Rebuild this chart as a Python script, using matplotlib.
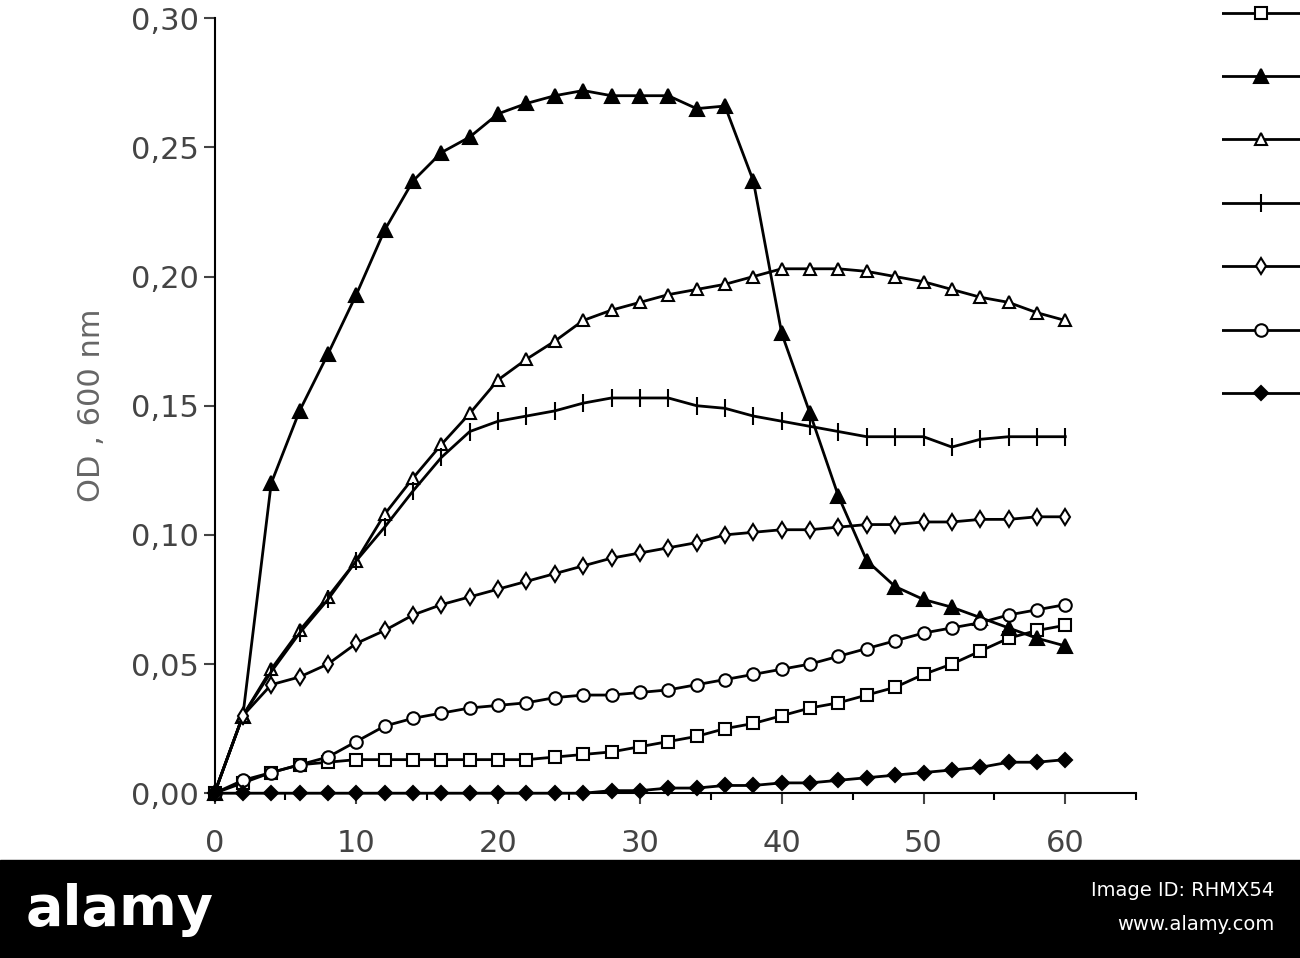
import numpy as np
import matplotlib.pyplot as plt
from matplotlib.patches import Rectangle

t = np.arange(0, 61, 2)

tri_filled = [0, 0.03, 0.12, 0.148, 0.17, 0.193, 0.218, 0.237, 0.248, 0.254, 0.263, 0.267, 0.27, 0.272, 0.27, 0.27,
              0.27, 0.265, 0.266, 0.237, 0.178, 0.147, 0.115, 0.09, 0.08, 0.075, 0.072, 0.068, 0.064, 0.06, 0.057]
tri_open = [0, 0.03, 0.048, 0.063, 0.076, 0.09, 0.108, 0.122, 0.135, 0.147, 0.16, 0.168, 0.175, 0.183, 0.187, 0.19,
            0.193, 0.195, 0.197, 0.2, 0.203, 0.203, 0.203, 0.202, 0.2, 0.198, 0.195, 0.192, 0.19, 0.186, 0.183]
plus = [0, 0.03, 0.047, 0.062, 0.075, 0.09, 0.103, 0.117, 0.13, 0.14, 0.144, 0.146, 0.148, 0.151, 0.153, 0.153,
        0.153, 0.15, 0.149, 0.146, 0.144, 0.142, 0.14, 0.138, 0.138, 0.138, 0.134, 0.137, 0.138, 0.138, 0.138]
diam_open = [0, 0.03, 0.042, 0.045, 0.05, 0.058, 0.063, 0.069, 0.073, 0.076, 0.079, 0.082, 0.085, 0.088, 0.091, 0.093,
             0.095, 0.097, 0.1, 0.101, 0.102, 0.102, 0.103, 0.104, 0.104, 0.105, 0.105, 0.106, 0.106, 0.107, 0.107]
circle = [0, 0.005, 0.008, 0.011, 0.014, 0.02, 0.026, 0.029, 0.031, 0.033, 0.034, 0.035, 0.037, 0.038, 0.038, 0.039,
          0.04, 0.042, 0.044, 0.046, 0.048, 0.05, 0.053, 0.056, 0.059, 0.062, 0.064, 0.066, 0.069, 0.071, 0.073]
square = [0, 0.004, 0.008, 0.011, 0.012, 0.013, 0.013, 0.013, 0.013, 0.013, 0.013, 0.013, 0.014, 0.015, 0.016, 0.018,
          0.02, 0.022, 0.025, 0.027, 0.03, 0.033, 0.035, 0.038, 0.041, 0.046, 0.05, 0.055, 0.06, 0.063, 0.065]
diam_filled = [0, 0, 0, 0, 0, 0, 0, 0, 0, 0, 0, 0, 0, 0, 0.001, 0.001,
               0.002, 0.002, 0.003, 0.003, 0.004, 0.004, 0.005, 0.006, 0.007, 0.008, 0.009, 0.010, 0.012, 0.012, 0.013]

# legend order (top to bottom) with marker styles
series = [
    (square, 's', 'white', 8),
    (tri_filled, '^', 'black', 10),
    (tri_open, '^', 'white', 9),
    (plus, '|', 'black', 13),
    (diam_open, 'd', 'white', 8),
    (circle, 'o', 'white', 9),
    (diam_filled, 'D', 'black', 7),
]

fig = plt.figure(figsize=(13, 9.58), dpi=100)
ax = fig.add_axes([0.165, 0.172, 0.709, 0.809])
for y, m, fc, ms in series:
    ax.plot(t, y, color='black', lw=2, marker=m, mfc=fc, mec='black', mew=1.5, ms=ms, clip_on=False)

ax.set_xlim(0, 65)
ax.set_ylim(0, 0.30)
ax.set_xticks(range(0, 61, 10))
ax.set_xticks(range(0, 66, 5), minor=True)
ax.set_yticks(np.arange(0, 0.31, 0.05))
ax.set_yticklabels([f'{v:.2f}'.replace('.', ',') for v in np.arange(0, 0.31, 0.05)])
for s in ['top', 'right']:
    ax.spines[s].set_visible(False)
ax.spines['left'].set_linewidth(1.5)
ax.spines['bottom'].set_linewidth(1.5)
ax.tick_params(labelsize=22, colors='#444444', length=8, width=1.5)
ax.tick_params(axis='x', pad=18)
ax.tick_params(which='minor', length=5, width=1.5)
ax.set_ylabel('OD , 600 nm', fontsize=22, color='#666666', labelpad=18)

# legend glyphs without labels
lg = fig.add_axes([0.94, 0.57, 0.06, 0.43])
lg.set_xlim(0, 1)
lg.set_ylim(-6.3, 0.2)
lg.axis('off')
for i, (y, m, fc, ms) in enumerate(series):
    lg.plot([0, 1], [-i, -i], color='black', lw=2)
    lg.plot([0.5], [-i], marker=m, mfc=fc, mec='black', mew=1.5, ms=ms)

# stock photo banner
fig.patches.append(Rectangle((0, 0), 1, 98 / 958, transform=fig.transFigure, color='black', zorder=10))
fig.text(0.02, 0.05, 'alamy', color='white', fontsize=40, fontweight='bold', va='center', zorder=11)
fig.text(0.98, 0.07, 'Image ID: RHMX54', color='white', fontsize=14, ha='right', va='center', zorder=11)
fig.text(0.98, 0.035, 'www.alamy.com', color='white', fontsize=14, ha='right', va='center', zorder=11)

fig.savefig('out.png', dpi=100)
